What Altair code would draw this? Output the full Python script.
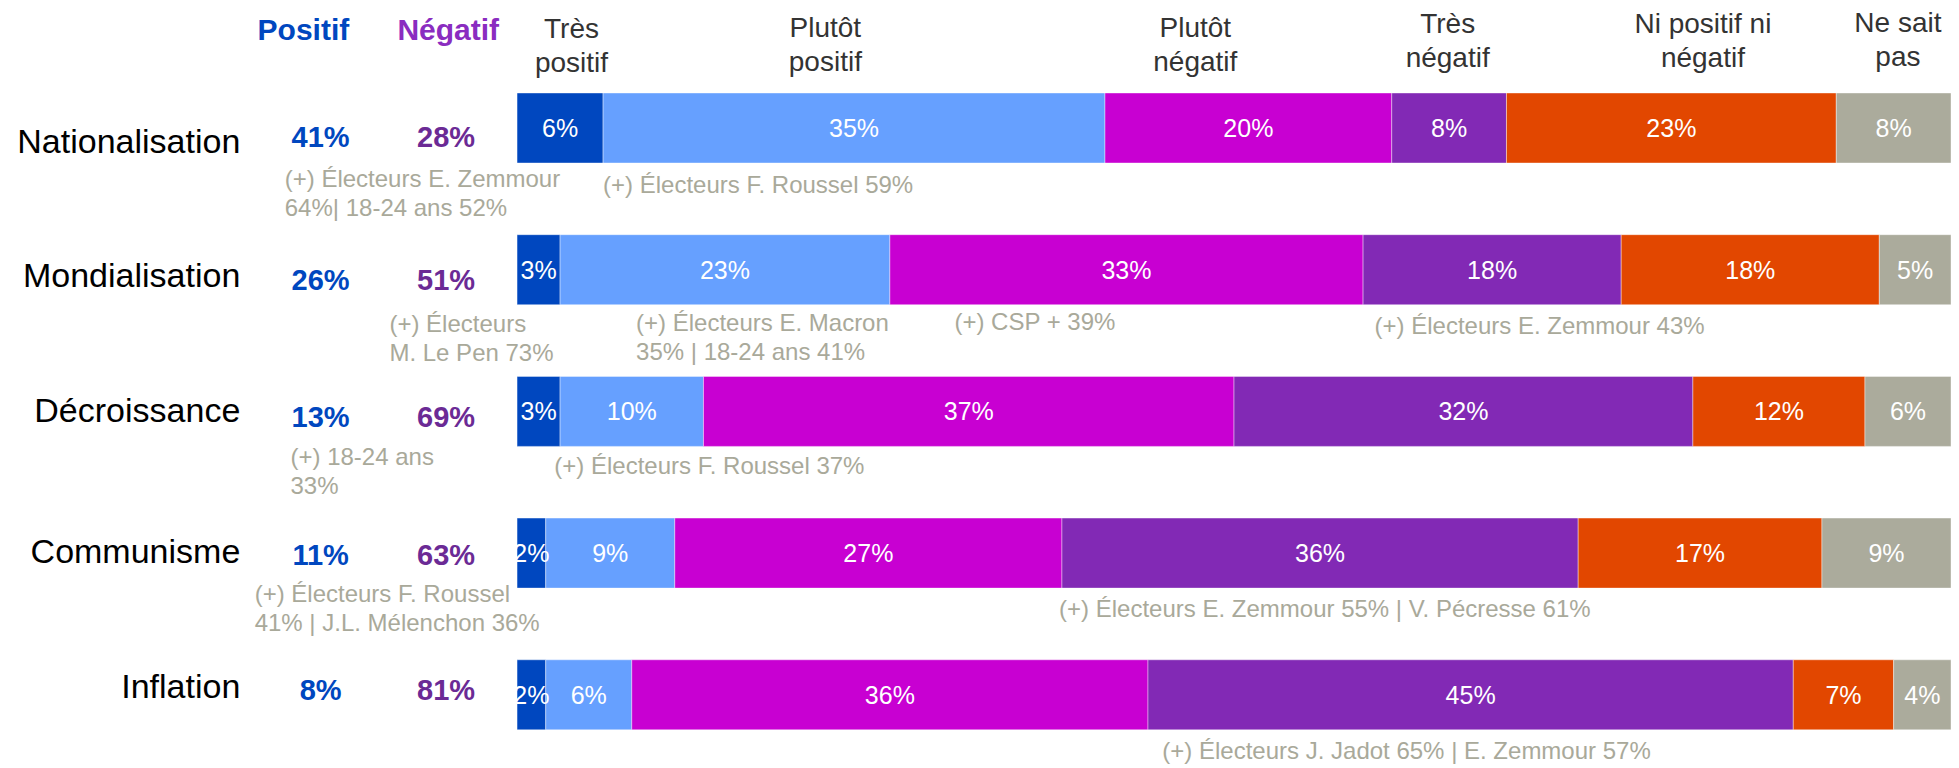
import altair as alt
import pandas as pd

# ---------------- data ----------------
categories = ["Nationalisation", "Mondialisation", "Décroissance", "Communisme", "Inflation"]
responses = ["Très positif", "Plutôt positif", "Plutôt négatif", "Très négatif",
             "Ni positif ni négatif", "Ne sait pas"]
header_labels = ["Très\npositif", "Plutôt\npositif", "Plutôt\nnégatif", "Très\nnégatif",
                 "Ni positif ni\nnégatif", "Ne sait\npas"]

tres_positif = [6, 3, 3, 2, 2]
plutot_positif = [35, 23, 10, 9, 6]
plutot_negatif = [20, 33, 37, 27, 36]
tres_negatif = [8, 18, 32, 36, 45]
ni_ni = [23, 18, 12, 17, 7]
ne_sait_pas = [8, 5, 6, 9, 4]

positif_total = [41, 26, 13, 11, 8]
negatif_total = [28, 51, 69, 63, 81]

annot_rows = [0, 0, 1, 1, 1, 1, 2, 2, 3, 3, 4]
annot_texts = [
    "(+) Électeurs E. Zemmour\n64%| 18-24 ans 52%",
    "(+) Électeurs F. Roussel 59%",
    "(+) Électeurs\nM. Le Pen 73%",
    "(+) Électeurs E. Macron\n35% | 18-24 ans 41%",
    "(+) CSP + 39%",
    "(+) Électeurs E. Zemmour 43%",
    "(+) 18-24 ans\n33%",
    "(+) Électeurs F. Roussel  37%",
    "(+) Électeurs F. Roussel\n41% | J.L. Mélenchon 36%",
    "(+) Électeurs E. Zemmour 55% | V. Pécresse 61%",
    "(+) Électeurs J. Jadot 65% | E. Zemmour 57%",
]

# ---------------- layout / style ----------------
colors = ["#0047BF", "#66A0FF", "#C800D2", "#8229B5", "#E24700", "#ABAB9C"]
FONT = "Liberation Sans, Arial, sans-serif"
W, H = 1943, 758
ROW_PX = 141.7          # pixels between row centres
ROW0_PX = 120           # centre of first row (plot coords)
BAR_PX = 70             # bar thickness
X_MIN, X_MAX = -35.5, 100

def off(px):
    return px / ROW_PX

def abs_row(page_px):
    return (page_px - 8 - ROW0_PX) / ROW_PX

header_x = [3.8, 21.5, 47.3, 64.9, 82.7, 96.3]
header_base = [38, 37, 37, 33, 33, 32]
label_x = -19.3
label_dy = [25, 17, 11, 10, 3]
pos_x, neg_x = -13.7, -4.95
pos_head_x, neg_head_x = -14.9, -4.8
value_dy = [19, 20, 16, 12, 5]
annot_x = [-16.2, 6.0, -8.9, 8.3, 30.5, 59.8, -15.8, 2.6, -18.3, 37.8, 45.0]
annot_dy = [59, 65, 62, 61, 60, 64, 54, 63, 49, 64, 64]

# ---------------- tables ----------------
series = [tres_positif, plutot_positif, plutot_negatif, tres_negatif, ni_ni, ne_sait_pas]
rows = []
for i, cat in enumerate(categories):
    start = 0
    for r, resp in enumerate(responses):
        v = series[r][i]
        rows.append(dict(cat=cat, row=i, response=resp, start=start, end=start + v,
                         mid=start + v / 2, label=f"{v}%",
                         top=i - off(BAR_PX / 2), bottom=i + off(BAR_PX / 2)))
        start += v
bars_df = pd.DataFrame(rows)

left_df = pd.DataFrame(dict(
    cat=categories,
    lx=[label_x] * len(categories),
    ly=[i + off(d) for i, d in enumerate(label_dy)],
    px=[pos_x] * len(categories),
    nx=[neg_x] * len(categories),
    vy=[i + off(d) for i, d in enumerate(value_dy)],
    pos=[f"{v}%" for v in positif_total],
    neg=[f"{v}%" for v in negatif_total],
))

head_df = pd.DataFrame(dict(text=header_labels, x=header_x,
                            y=[abs_row(b) for b in header_base]))
pn_df = pd.DataFrame(dict(text=["Positif", "Négatif"], x=[pos_head_x, neg_head_x],
                          y=[abs_row(40), abs_row(40)], col=["pos", "neg"]))
annot_df = pd.DataFrame(dict(text=annot_texts, x=annot_x,
                             y=[r + off(d) for r, d in zip(annot_rows, annot_dy)]))

xs = alt.Scale(domain=[X_MIN, X_MAX], nice=False, zero=False)
ys = alt.Scale(domain=[-ROW0_PX / ROW_PX, (H - ROW0_PX) / ROW_PX], nice=False, zero=False,
               reverse=True)

def X(f):
    return alt.X(f, type="quantitative", scale=xs, axis=None)

def Y(f):
    return alt.Y(f, type="quantitative", scale=ys, axis=None)

bars = alt.Chart(bars_df).mark_bar(stroke="white", strokeWidth=1, strokeOpacity=0.4).encode(
    x=X("start"), x2="end", y=Y("top"), y2="bottom",
    color=alt.Color("response:N", scale=alt.Scale(domain=responses, range=colors), legend=None),
)

seg_text = alt.Chart(bars_df).mark_text(
    font=FONT, fontSize=25, color="white", align="center", baseline="middle", dy=1
).encode(x=X("mid"), y=Y("row"), text="label:N")

cat_text = alt.Chart(left_df).mark_text(
    font=FONT, fontSize=34, color="#000000", align="right", baseline="alphabetic"
).encode(x=X("lx"), y=Y("ly"), text="cat:N")

pos_text = alt.Chart(left_df).mark_text(
    font=FONT, fontSize=29, fontWeight="bold", color="#0047BF", align="center",
    baseline="alphabetic"
).encode(x=X("px"), y=Y("vy"), text="pos:N")

neg_text = alt.Chart(left_df).mark_text(
    font=FONT, fontSize=29, fontWeight="bold", color="#6B2A95", align="center",
    baseline="alphabetic"
).encode(x=X("nx"), y=Y("vy"), text="neg:N")

pn_text = alt.Chart(pn_df).mark_text(
    font=FONT, fontSize=30, fontWeight="bold", align="center", baseline="alphabetic"
).encode(
    x=X("x"), y=Y("y"), text="text:N",
    color=alt.Color("col:N", scale=alt.Scale(domain=["pos", "neg"],
                                              range=["#0047BF", "#8A2CC0"]), legend=None),
)

head_text = alt.Chart(head_df).mark_text(
    font=FONT, fontSize=28, color="#333333", align="center", baseline="alphabetic",
    lineBreak="\n", lineHeight=34
).encode(x=X("x"), y=Y("y"), text="text:N")

annot_text = alt.Chart(annot_df).mark_text(
    font=FONT, fontSize=24, color="#A9A99A", align="left", baseline="alphabetic",
    lineBreak="\n", lineHeight=29
).encode(x=X("x"), y=Y("y"), text="text:N")

chart = alt.layer(
    bars, seg_text, cat_text, pos_text, neg_text, pn_text, head_text, annot_text
).resolve_scale(color="independent").properties(
    width=W, height=H, padding=0, autosize=alt.AutoSizeParams(type="none")
).configure_view(strokeWidth=0)

chart.save("out.html", embed_options={"renderer": "svg", "actions": False})
